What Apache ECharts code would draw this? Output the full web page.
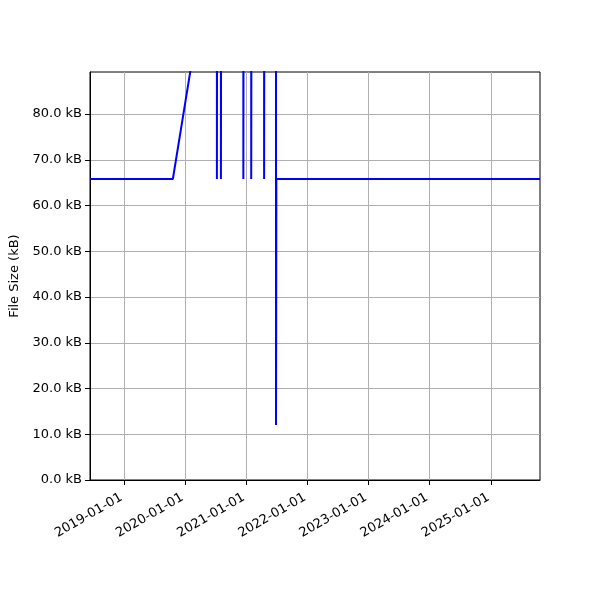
<!DOCTYPE html>
<html>
<head>
<meta charset="utf-8">
<script src="https://cdn.jsdelivr.net/npm/echarts@6/dist/echarts.min.js"></script>
<style>html,body{margin:0;padding:0;background:#fff}#c{width:600px;height:600px}</style>
</head>
<body>
<div id="c"></div>
<script>
const dates = [
  '2018-06-12', '2019-10-20', '2020-03-15',
  '2020-07-09', '2020-07-09', '2020-07-10',
  '2020-08-02', '2020-08-02', '2020-08-03',
  '2020-12-14', '2020-12-14', '2020-12-15',
  '2021-01-30', '2021-01-30', '2021-01-31',
  '2021-04-17', '2021-04-17', '2021-04-18',
  '2021-06-27', '2021-06-27', '2021-06-28', '2021-06-29',
  '2025-10-21'
];
const sizes = [
  65.8, 65.8, 99,
  99, 65.8, 99,
  99, 65.8, 99,
  99, 65.8, 99,
  99, 65.8, 99,
  99, 65.8, 99,
  99, 12, 34.5, 65.8,
  65.8
];
const xTickLabels = ['2019-01-01','2020-01-01','2021-01-01','2022-01-01','2023-01-01','2024-01-01','2025-01-01'];
const yTicks = [0, 10, 20, 30, 40, 50, 60, 70, 80];
const xMin = '2018-06-12', xMax = '2025-10-21';
const yMax = 89.2;

const font = 'DejaVu Sans';
const toTs = s => new Date(s + 'T00:00:00Z').getTime();
const xTickVals = xTickLabels.map(toTs);
const pad = n => (n < 10 ? '0' : '') + n;

const chart = echarts.init(document.getElementById('c'), null, {renderer: 'canvas'});
chart.setOption({
  animation: false,
  backgroundColor: '#fff',
  grid: {left: 90, right: 60, top: 72, bottom: 120, show: true, borderColor: '#000', borderWidth: 1, backgroundColor: 'transparent'},
  xAxis: {
    type: 'value',
    min: toTs(xMin), max: toTs(xMax),
    axisLine: {show: true, lineStyle: {color: '#000', width: 1}},
    axisTick: {show: true, length: 5, lineStyle: {color: '#000'}, customValues: xTickVals},
    axisLabel: {
      customValues: xTickVals, rotate: 30, color: '#000', fontFamily: font, fontSize: 13, margin: 15,
      padding: [0, 3, 0, 0],
      formatter: v => { const d = new Date(v); return d.getUTCFullYear() + '-' + pad(d.getUTCMonth() + 1) + '-' + pad(d.getUTCDate()); }
    },
    splitLine: {show: true, lineStyle: {color: '#b0b0b0', width: 1}}
  },
  yAxis: {
    type: 'value', min: 0, max: yMax,
    name: 'File Size (kB)', nameLocation: 'middle', nameGap: 68, nameRotate: 90,
    nameTextStyle: {color: '#000', fontFamily: font, fontSize: 13},
    axisLine: {show: true, lineStyle: {color: '#000', width: 1}},
    axisTick: {show: true, length: 5, lineStyle: {color: '#000'}, customValues: yTicks},
    axisLabel: {customValues: yTicks, color: '#000', fontFamily: font, fontSize: 13, margin: 8,
      formatter: v => v.toFixed(1) + ' kB'},
    splitLine: {show: true, lineStyle: {color: '#b0b0b0', width: 1}}
  },
  series: [{
    type: 'line',
    data: dates.map((d, i) => [toTs(d), sizes[i]]),
    showSymbol: false, symbol: 'none', clip: true,
    lineStyle: {color: '#0000ff', width: 2},
    itemStyle: {color: '#0000ff'}
  }]
});
</script>
</body>
</html>
